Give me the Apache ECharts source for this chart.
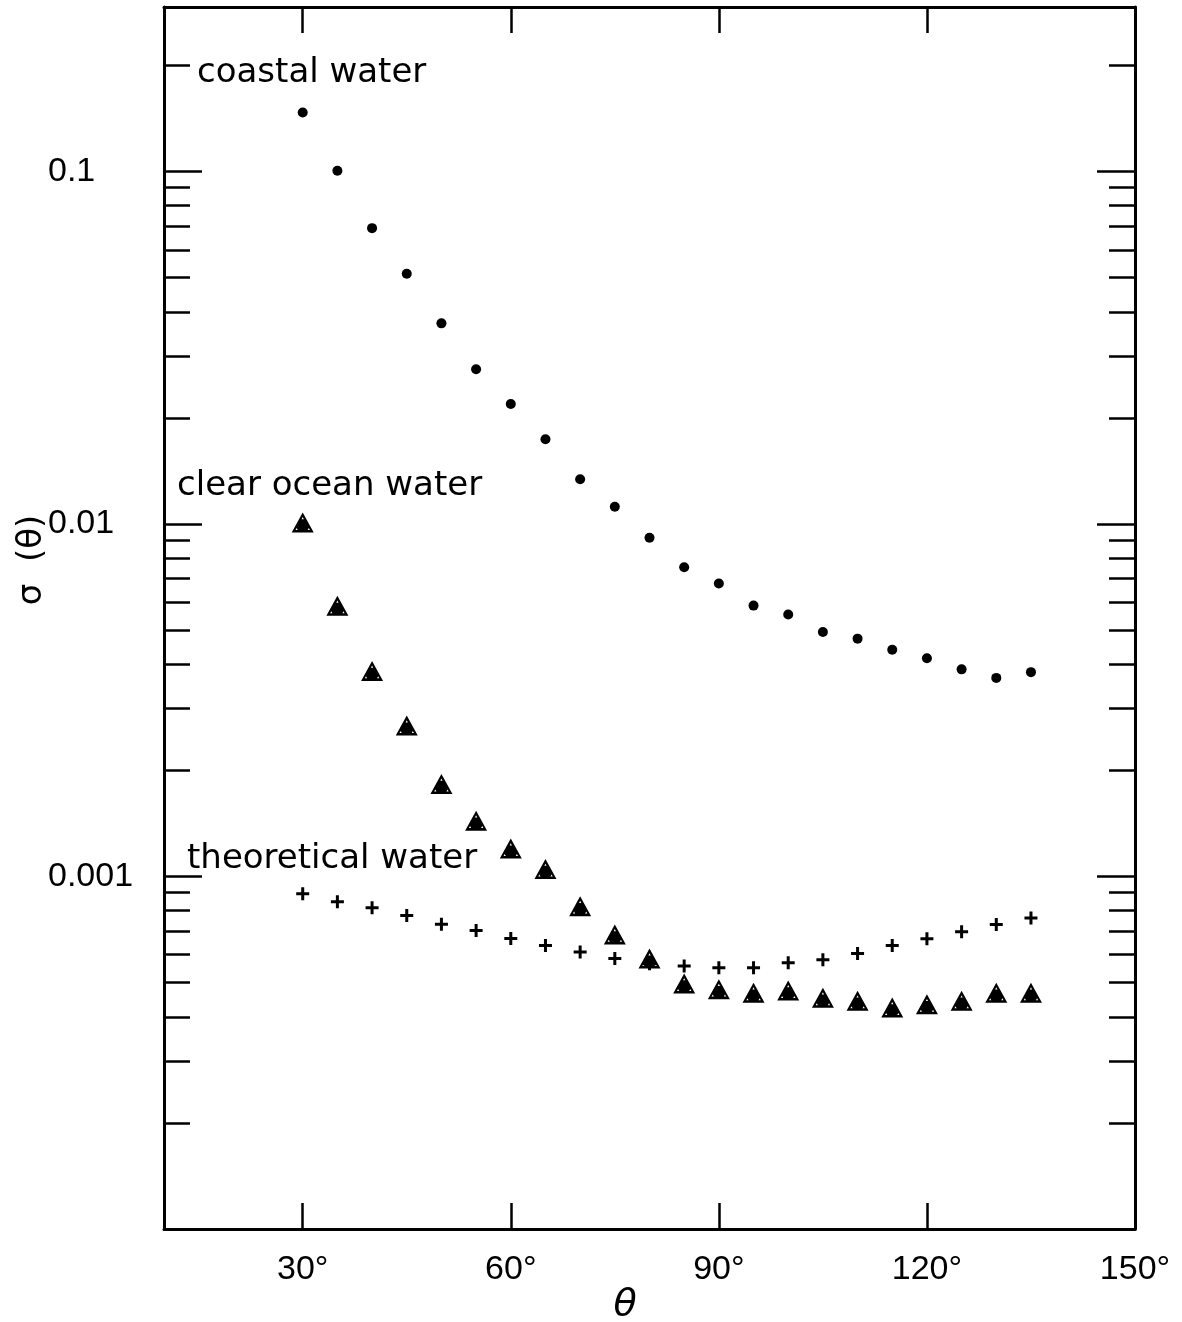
<!DOCTYPE html>
<html>
<head>
<meta charset="utf-8">
<title>σ(θ) for coastal, clear ocean and theoretical water</title>
<script src="https://cdn.jsdelivr.net/npm/echarts@6/dist/echarts.min.js"></script>
<style>
  html, body { margin: 0; padding: 0; background: #fff; }
  #chart { width: 1182px; height: 1322px; }
</style>
</head>
<body>
<div id="chart"></div>
<script>
// Scattering angle (degrees)
const angles = [30, 35, 40, 45, 50, 55, 60, 65, 70, 75, 80, 85, 90, 95, 100, 105, 110, 115, 120, 125, 130, 135];

// Volume scattering function σ(θ) for each water type
const coastalWater = [0.147, 0.1005, 0.0691, 0.0513, 0.0371, 0.0275, 0.0219, 0.0174, 0.0134, 0.0112, 0.00914,
  0.00754, 0.00678, 0.00587, 0.00554, 0.00494, 0.00473, 0.0044, 0.00416, 0.00387, 0.00366, 0.0038];
const clearOceanWater = [0.0101, 0.00586, 0.00383, 0.00268, 0.00183, 0.00144, 0.0012, 0.00105, 0.000824, 0.000685, 0.000585,
  0.000497, 0.000479, 0.000468, 0.000475, 0.000453, 0.000444, 0.000425, 0.000434, 0.000444, 0.000468, 0.000468];
const theoreticalWater = [0.000893, 0.000848, 0.000815, 0.000775, 0.000732, 0.000703, 0.000667, 0.000637, 0.000611, 0.000585, 0.000566,
  0.000557, 0.000551, 0.000551, 0.000569, 0.000581, 0.000605, 0.000637, 0.000666, 0.000697, 0.000731, 0.000763];

// Axis ticks and labels
const xTicks = [30, 60, 90, 120];
const xTickLabels = [30, 60, 90, 120, 150];
const yMajorTicks = [0.1, 0.01, 0.001];
const yTickLabels = ['0.1', '0.01', '0.001'];
const yMinorMultipliers = [2, 3, 4, 5, 6, 7, 8, 9];

const X_MIN = 10, X_MAX = 150;
const Y_MIN = 0.0001, Y_MAX = 0.293;

const BLACK = '#000';
const TICK_FONT = 'Liberation Sans, Arial, sans-serif';
const TEXT_FONT = 'DejaVu Sans, sans-serif';

// Marker shapes: outlined triangle with a dot, and a plus sign
const TRIANGLE = 'path://M11 0 L22 20 L0 20 Z ' +
  'M11 4.6 L9.9 6.8 L12.1 6.8 Z ' +
  'M4.9 15.4 L3.8 17.4 L6.0 17.4 Z ' +
  'M17.1 15.4 L16.0 17.4 L18.2 17.4 Z';
const PLUS = 'path://M5 0 H8 V5 H13 V8 H8 V13 H5 V8 H0 V5 H5 Z';

function majorLabel(v) {
  for (let i = 0; i < yMajorTicks.length; i++) {
    if (Math.abs(Math.log10(v) - Math.log10(yMajorTicks[i])) < 1e-6) return yTickLabels[i];
  }
  return '';
}

// A log axis whose decades land on divisor × 10^k of the main scale,
// so its own decade ticks serve as the intermediate ticks.
function logAxis(position, divisor, major) {
  const showLabels = major && position === 'left';
  return {
    type: 'log',
    logBase: 10,
    position: position,
    min: Y_MIN / divisor,
    max: Y_MAX / divisor,
    axisLine: { show: major, onZero: false, lineStyle: { color: BLACK, width: 3 } },
    axisTick: { show: true, inside: true, length: major ? 38 : 26, lineStyle: { color: BLACK, width: 2.5 } },
    axisLabel: {
      show: showLabels,
      inside: false,
      align: 'left',
      margin: 116,
      color: BLACK,
      fontFamily: TICK_FONT,
      fontSize: 34,
      formatter: majorLabel
    },
    splitLine: { show: false },
    minorTick: { show: false },
    minorSplitLine: { show: false }
  };
}

const yAxes = [logAxis('left', 1, true), logAxis('right', 1, true)];
yMinorMultipliers.forEach(m => {
  yAxes.push(logAxis('left', m, false));
  yAxes.push(logAxis('right', m, false));
});

function xAxisDef(position) {
  return {
    type: 'value',
    position: position,
    min: X_MIN,
    max: X_MAX,
    axisLine: { show: true, onZero: false, lineStyle: { color: BLACK, width: 3 } },
    axisTick: { show: true, inside: true, length: 26, customValues: xTicks, lineStyle: { color: BLACK, width: 2.5 } },
    axisLabel: {
      show: position === 'bottom',
      customValues: xTickLabels,
      formatter: '{value}°',
      margin: 24,
      color: BLACK,
      fontFamily: TICK_FONT,
      fontSize: 34
    },
    splitLine: { show: false }
  };
}

function pairs(values) {
  return angles.map((a, i) => [a, values[i]]);
}

const chart = echarts.init(document.getElementById('chart'), null, { renderer: 'canvas' });
chart.setOption({
  animation: false,
  backgroundColor: '#fff',
  grid: { left: 164, right: 47, top: 7, bottom: 93, containLabel: false },
  xAxis: [xAxisDef('bottom'), xAxisDef('top')],
  yAxis: yAxes,
  series: [
    {
      name: 'theoretical water',
      type: 'scatter',
      xAxisIndex: 0, yAxisIndex: 0,
      symbol: PLUS, symbolSize: [13, 13],
      itemStyle: { color: BLACK, opacity: 1 },
      data: pairs(theoreticalWater),
      silent: true
    },
    {
      name: 'clear ocean water',
      type: 'scatter',
      xAxisIndex: 0, yAxisIndex: 0,
      symbol: TRIANGLE, symbolSize: [22, 20],
      itemStyle: { color: BLACK, opacity: 1 },
      data: pairs(clearOceanWater),
      silent: true
    },
    {
      name: 'coastal water',
      type: 'scatter',
      xAxisIndex: 0, yAxisIndex: 0,
      symbol: 'circle', symbolSize: 10,
      itemStyle: { color: BLACK, opacity: 1 },
      data: pairs(coastalWater),
      silent: true
    }
  ],
  graphic: [
    { type: 'text', left: 197, top: 56, silent: true,
      style: { text: 'coastal water', fill: BLACK, font: '34px ' + TEXT_FONT } },
    { type: 'text', left: 177, top: 469, silent: true,
      style: { text: 'clear ocean water', fill: BLACK, font: '34px ' + TEXT_FONT } },
    { type: 'text', left: 187, top: 842, silent: true,
      style: { text: 'theoretical water', fill: BLACK, font: '34px ' + TEXT_FONT } },
    { type: 'text', x: 625, y: 1305, silent: true,
      style: { text: 'θ', fill: BLACK, font: 'italic 38px ' + TEXT_FONT, align: 'center', verticalAlign: 'middle' } },
    { type: 'text', x: 32, y: 560, rotation: Math.PI / 2, silent: true,
      style: { text: 'σ  (θ)', fill: BLACK, font: '34px ' + TEXT_FONT, align: 'center', verticalAlign: 'middle' } }
  ]
});
</script>
</body>
</html>
